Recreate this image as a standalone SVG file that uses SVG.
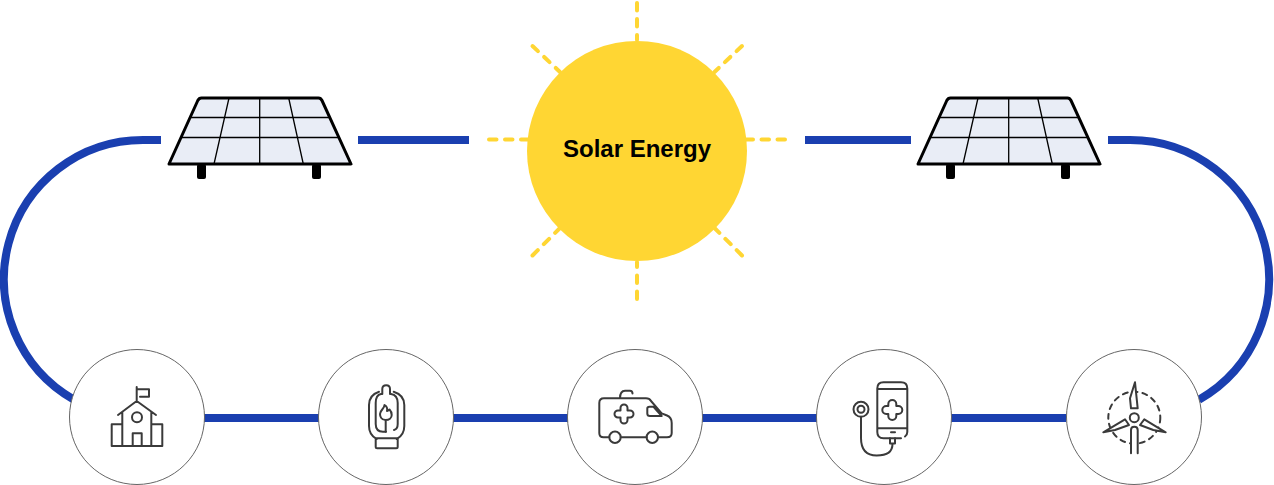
<svg xmlns="http://www.w3.org/2000/svg" width="1274" height="485" viewBox="0 0 1274 485">
<style>
.wire{fill:none;stroke:#1a3fb0;stroke-width:8}
.ray{fill:none;stroke:#ffd633;stroke-width:4;stroke-linecap:round;stroke-dasharray:7.500 8.500}
.stop{fill:#fff;stroke:#666;stroke-width:1}
.ic{fill:none;stroke:#3a3a3a;stroke-width:2;stroke-linecap:round;stroke-linejoin:round}
.icw{fill:#fff;stroke:#3a3a3a;stroke-width:2;stroke-linecap:round;stroke-linejoin:round}
.pf{fill:#e9edf6;stroke:#000;stroke-width:3;stroke-linejoin:round}
.pg{fill:none;stroke:#000;stroke-width:1.300}
.leg{fill:#000}
.lbl{font-family:"Liberation Sans",Arial,sans-serif;font-size:24px;font-weight:bold;fill:#000;text-anchor:middle}
</style>
<defs>
<g id="panel">
<rect class="leg" x="197" y="164" width="9" height="15" rx="2"/>
<rect class="leg" x="312" y="164" width="9" height="15" rx="2"/>
<path class="pf" d="M197.800 100.500Q199 98 201.500 98H318.500Q320.800 98 322 100.500L351 164H169Z"/>
<path class="pg" d="M189.500 117.500H329.500M180 137.500H339M229 98L214 164M259.700 98V164M288.700 98L303.300 164"/>
</g>
</defs>
<g id="connectors">
<path class="wire" d="M161 140H143A139 139 0 0 0 74 399.700"/>
<path class="wire" d="M358 140H469"/>
<path class="wire" d="M805 140H911"/>
<path class="wire" d="M1108 140H1130A139 139 0 0 1 1199 399.700"/>
<path class="wire" d="M204 418H1066"/>
</g>
<g id="sun">
<path class="ray" d="M637 3V40"/>
<path class="ray" d="M637 299V262"/>
<path class="ray" d="M489 139.500H528"/>
<path class="ray" d="M785 139.500H746"/>
<path class="ray" d="M532.500 46L560 72"/>
<path class="ray" d="M742 46L714.500 72"/>
<path class="ray" d="M532.500 255.500L560 228"/>
<path class="ray" d="M742 255.500L714.500 228"/>
<circle cx="637" cy="151" r="110" fill="#ffd633"/>
<text class="lbl" x="637" y="157">Solar Energy</text>
</g>
<g id="panel-left"><use href="#panel"/></g>
<g id="panel-right"><use href="#panel" x="749"/></g>
<g id="school">
<circle class="stop" cx="137" cy="417" r="67.500"/>
<path class="ic" d="M136.700 401V387M136.700 389.300H149V396.700H140M118 415L136.700 401L156 415M122.300 412V446M151.300 412V446M122.300 424.300H111.700V446H162.300V424.300H151.300M132.700 446V433.300H141.700V446"/>
<circle class="ic" cx="137" cy="417.300" r="5"/>
</g>
<g id="gas">
<circle class="stop" cx="386" cy="417" r="67.500"/>
<path class="ic" d="M382.300 394V389Q382.300 385.300 386.200 385.300Q390 385.300 390 389V394M379 391.700Q369 395 369 405V426Q369 435 376.700 439M393.700 391.700Q404.300 395 404.300 405V426Q404.300 435 396.700 439M382.300 394H381Q375.700 395 375.700 403V424Q375.700 431.700 383 431.700H386M390 394H391Q397.700 395 397.700 403V424Q397.700 429 394 430"/>
<rect class="ic" x="375.700" y="438.300" width="22" height="10" rx="1.500"/>
<path class="ic" d="M385.700 431.700V420C381 420 380 416 380 414C380 410 384.500 409 384.500 405C387 406.500 387.500 409 387 411C388.500 410.500 389 410 389.500 409.500C391 411 391.700 413 391.700 415C391.700 418 389 420 385.700 420"/>
</g>
<g id="ambulance">
<circle class="stop" cx="635" cy="417" r="67.500"/>
<path class="ic" d="M609.300 437.300H603.500Q599.300 437.300 599.300 433V403Q599.300 398.300 604 398.300H646Q649.500 398.300 651 401L661.700 413.300L667 415.500Q671.700 417.500 671.700 423V433Q671.700 437.300 667 437.300H658M620.700 437.300H646.700M620 398.300Q620 390.700 625 390.700H630Q632.500 390.700 632.500 393.500M647.300 408.500Q647.300 406.700 649.500 406.700H653.300L661.700 416H650Q647.300 416 647.300 413.500Z"/>
<circle class="ic" cx="615" cy="437.300" r="5.700"/>
<circle class="ic" cx="652.300" cy="437.300" r="5.700"/>
<path class="ic" d="M620.500 408a3.500 3.500 0 0 1 7 0V410.500H630a3.500 3.500 0 0 1 0 7H627.500V420a3.500 3.500 0 0 1-7 0V417.500H618a3.500 3.500 0 0 1 0-7H620.500Z"/>
</g>
<g id="phone">
<circle class="stop" cx="884" cy="417" r="67.500"/>
<path class="ic" d="M890 438.300H883.500Q877.300 438.300 877.300 432V388.500Q877.300 382.300 883.500 382.300H901Q907.300 382.300 907.300 388.500V432Q907.300 435 905 436.500M895 438.300H901M877.300 389H907.300M877.300 428.300H907.300M891 432.300H895M888.300 404a4 4 0 0 1 8 0V406H898.300a4 4 0 0 1 0 8H896.300V416a4 4 0 0 1-8 0V414H886.300a4 4 0 0 1 0-8H888.300Z"/>
<path class="ic" d="M890 438.300H895V443.500H890ZM892.500 444Q892.500 455.500 876.700 455.500Q861 455.500 861 438V416.700"/>
<circle class="ic" cx="861" cy="409.300" r="7.500"/>
<circle class="ic" cx="861" cy="409.300" r="3.500"/>
</g>
<g id="turbine">
<circle class="stop" cx="1134" cy="417" r="67.500"/>
<circle class="ic" cx="1134.300" cy="417.700" r="26" stroke-dasharray="5 5"/>
<path class="icw" d="M1135 382.300L1137.700 408.300H1131L1130 398.300Z"/>
<path class="icw" d="M1103.300 432.300L1125 419.300L1129 425L1115 430Z"/>
<path class="icw" d="M1165.700 432.300L1144.300 419.300L1140 425L1153.300 430Z"/>
<path class="icw" d="M1131 453.300V430Q1131 426.700 1134.300 426.700Q1137.700 426.700 1137.700 430V453.300"/>
<circle class="icw" cx="1134.300" cy="417.700" r="4.500"/>
</g>
</svg>
